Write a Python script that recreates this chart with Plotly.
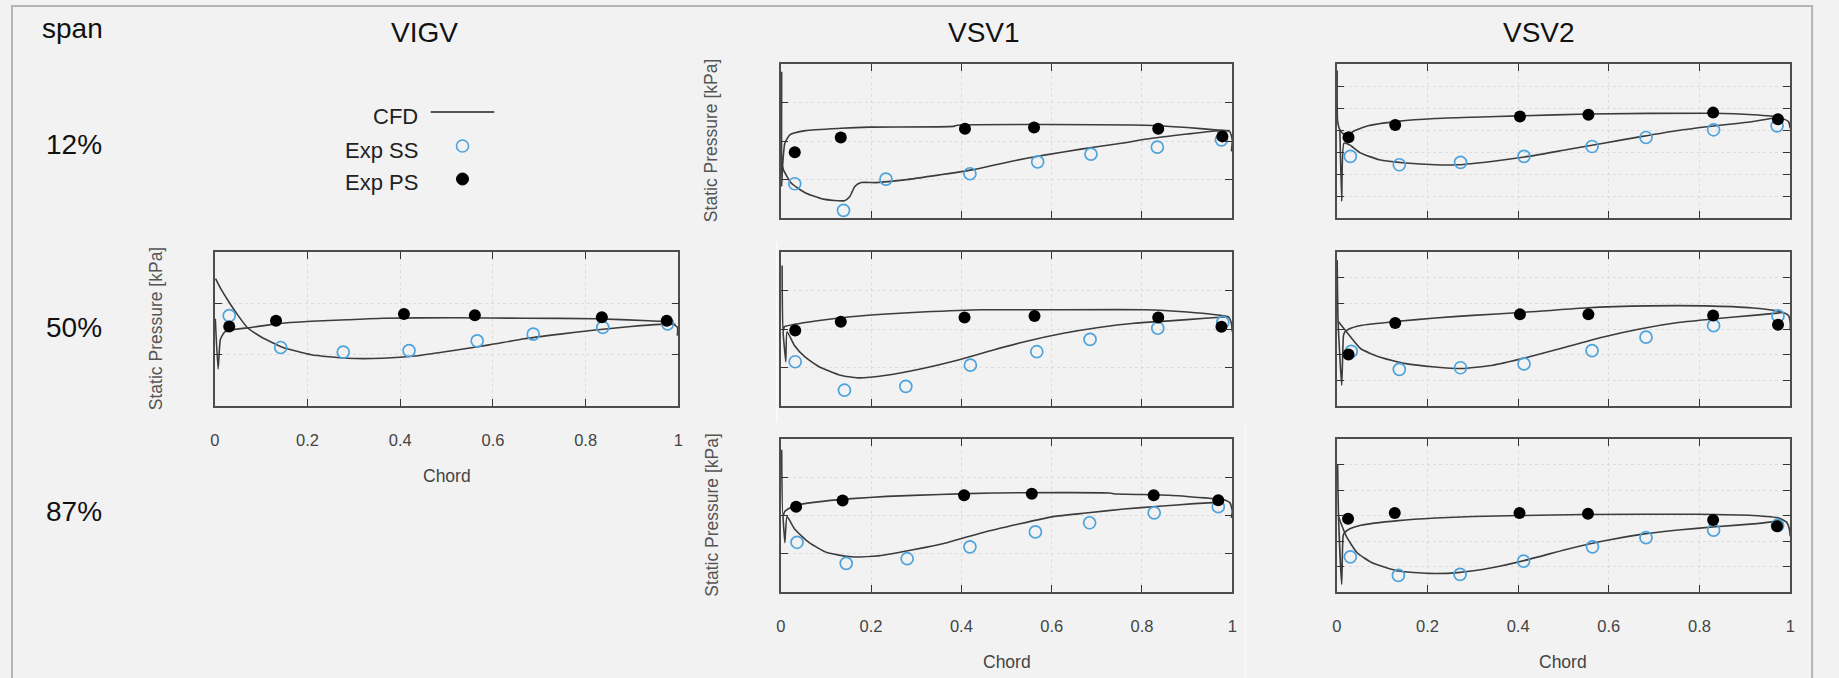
import plotly.graph_objects as go

W, H = 1839, 678
FONT = "Liberation Sans, Arial, sans-serif"

# ---------------- data: chord fraction vs static pressure (axis tick units) ----------------
# VIGV, 50% span
VIGV_50_PS_CHORD = [0.031, 0.132, 0.408, 0.561, 0.835, 0.975]
VIGV_50_PS_P = [1.55, 1.66, 1.79, 1.77, 1.73, 1.66]
VIGV_50_SS_CHORD = [0.031, 0.142, 0.277, 0.419, 0.566, 0.687, 0.837, 0.977]
VIGV_50_SS_P = [1.76, 1.14, 1.05, 1.08, 1.27, 1.40, 1.53, 1.60]
VIGV_50_CFD_A_CHORD = [0.001, 0.007, 0.012, 0.021, 0.040, 0.078, 0.132, 0.208, 0.285, 0.362,
                       0.515, 0.668, 0.821, 0.936, 0.982, 0.998, 0.998]
VIGV_50_CFD_A_P = [1.70, 0.72, 1.30, 1.44, 1.49, 1.53, 1.60, 1.65, 1.68, 1.71,
                   1.72, 1.71, 1.70, 1.66, 1.63, 1.53, 1.37]
VIGV_50_CFD_B_CHORD = [0.0015, 0.013, 0.028, 0.048, 0.070, 0.101, 0.147, 0.208, 0.285, 0.362,
                       0.438, 0.515, 0.592, 0.668, 0.745, 0.821, 0.898, 0.959, 0.994]
VIGV_50_CFD_B_P = [2.48, 2.28, 2.06, 1.79, 1.53, 1.34, 1.14, 1.00, 0.93, 0.93,
                   0.98, 1.08, 1.19, 1.31, 1.40, 1.48, 1.55, 1.59, 1.59]

# VSV1, 12% span
VSV1_12_PS_CHORD = [0.031, 0.133, 0.408, 0.561, 0.836, 0.978]
VSV1_12_PS_P = [1.71, 2.09, 2.32, 2.35, 2.32, 2.12]
VSV1_12_SS_CHORD = [0.031, 0.139, 0.233, 0.419, 0.569, 0.687, 0.834, 0.976]
VSV1_12_SS_P = [0.89, 0.20, 1.01, 1.15, 1.46, 1.66, 1.84, 2.03]
VSV1_12_CFD_A_CHORD = [0.002, 0.002, 0.004, 0.009, 0.020, 0.055, 0.133, 0.196, 0.383, 0.391,
                       0.806, 0.900, 0.962, 0.994, 1.0, 0.998]
VSV1_12_CFD_A_P = [3.80, 0.82, 1.34, 1.94, 2.16, 2.27, 2.33, 2.36, 2.38, 2.41,
                   2.41, 2.35, 2.29, 2.25, 2.03, 1.73]
VSV1_12_CFD_B_CHORD = [0.004, 0.006, 0.023, 0.055, 0.094, 0.141, 0.153, 0.164, 0.178, 0.211,
                       0.274, 0.352, 0.423, 0.509, 0.587, 0.665, 0.743, 0.822, 0.900, 0.962, 0.994]
VSV1_12_CFD_B_P = [1.34, 1.25, 0.91, 0.65, 0.49, 0.45, 0.56, 0.82, 0.92, 0.92,
                   0.99, 1.12, 1.25, 1.47, 1.64, 1.79, 1.92, 2.07, 2.18, 2.26, 2.27]

# VSV1, 50% span
VSV1_50_PS_CHORD = [0.032, 0.133, 0.407, 0.562, 0.836, 0.976]
VSV1_50_PS_P = [1.96, 2.19, 2.30, 2.34, 2.30, 2.06]
VSV1_50_SS_CHORD = [0.032, 0.141, 0.277, 0.420, 0.567, 0.685, 0.835, 0.979]
VSV1_50_SS_P = [1.15, 0.41, 0.51, 1.06, 1.41, 1.73, 2.02, 2.17]
VSV1_50_CFD_A_CHORD = [0.003, 0.005, 0.008, 0.030, 0.077, 0.155, 0.234, 0.312, 0.445, 0.587,
                       0.806, 0.900, 0.963, 0.991, 0.998, 1.0]
VSV1_50_CFD_A_P = [3.65, 1.93, 2.06, 2.12, 2.21, 2.32, 2.39, 2.44, 2.50, 2.50,
                   2.50, 2.44, 2.37, 2.32, 2.15, 1.93]
VSV1_50_CFD_B_CHORD = [0.005, 0.011, 0.014, 0.030, 0.053, 0.085, 0.132, 0.171, 0.234, 0.312,
                       0.391, 0.469, 0.547, 0.626, 0.704, 0.783, 0.861, 0.940, 0.991]
VSV1_50_CFD_B_P = [1.93, 1.15, 1.93, 1.58, 1.28, 1.02, 0.80, 0.73, 0.80, 0.97,
                   1.19, 1.45, 1.69, 1.89, 2.04, 2.15, 2.21, 2.28, 2.32]

# VSV1, 87% span
VSV1_87_PS_CHORD = [0.034, 0.137, 0.406, 0.556, 0.826, 0.969]
VSV1_87_PS_P = [2.23, 2.39, 2.53, 2.57, 2.53, 2.40]
VSV1_87_SS_CHORD = [0.036, 0.145, 0.280, 0.419, 0.564, 0.684, 0.827, 0.969]
VSV1_87_SS_P = [1.30, 0.75, 0.87, 1.18, 1.57, 1.81, 2.07, 2.23]
VSV1_87_CFD_A_CHORD = [0.002, 0.005, 0.009, 0.031, 0.078, 0.157, 0.235, 0.352, 0.470, 0.728,
                       0.736, 0.861, 0.940, 0.979, 0.995, 1.0, 0.998]
VSV1_87_CFD_A_P = [3.72, 1.98, 2.11, 2.26, 2.35, 2.44, 2.50, 2.55, 2.59, 2.59,
                   2.57, 2.53, 2.46, 2.42, 2.33, 2.11, 1.94]
VSV1_87_CFD_B_CHORD = [0.005, 0.009, 0.014, 0.031, 0.063, 0.102, 0.157, 0.211, 0.290, 0.368,
                       0.446, 0.525, 0.603, 0.681, 0.760, 0.838, 0.916, 0.979]
VSV1_87_CFD_B_P = [1.98, 1.29, 1.97, 1.64, 1.29, 1.03, 0.92, 0.94, 1.10, 1.29,
                   1.55, 1.77, 1.97, 2.07, 2.17, 2.24, 2.31, 2.35]

# VSV2, 12% span
VSV2_12_PS_CHORD = [0.026, 0.129, 0.404, 0.555, 0.830, 0.973]
VSV2_12_PS_P = [3.67, 4.23, 4.61, 4.69, 4.79, 4.49]
VSV2_12_SS_CHORD = [0.030, 0.138, 0.273, 0.413, 0.563, 0.682, 0.831, 0.971]
VSV2_12_SS_P = [2.80, 2.42, 2.53, 2.80, 3.25, 3.66, 4.01, 4.19]
VSV2_12_CFD_A_CHORD = [0.001, 0.002, 0.007, 0.022, 0.036, 0.069, 0.135, 0.217, 0.300, 0.404,
                       0.555, 0.827, 0.918, 0.975, 0.996, 1.0]
VSV2_12_CFD_A_P = [6.70, 4.39, 4.01, 3.70, 3.93, 4.19, 4.39, 4.52, 4.58, 4.64,
                   4.73, 4.76, 4.69, 4.58, 4.39, 4.08]
VSV2_12_CFD_B_CHORD = [0.007, 0.011, 0.016, 0.028, 0.053, 0.094, 0.152, 0.217, 0.267, 0.341,
                       0.423, 0.506, 0.588, 0.671, 0.753, 0.835, 0.918, 0.975]
VSV2_12_CFD_B_P = [4.01, 0.76, 3.40, 3.33, 2.95, 2.65, 2.50, 2.42, 2.42, 2.57,
                   2.80, 3.10, 3.40, 3.70, 3.98, 4.19, 4.39, 4.58]

# VSV2, 50% span
VSV2_50_PS_CHORD = [0.026, 0.129, 0.404, 0.555, 0.830, 0.973]
VSV2_50_PS_P = [2.01, 3.23, 3.57, 3.57, 3.53, 3.17]
VSV2_50_SS_CHORD = [0.032, 0.138, 0.273, 0.413, 0.563, 0.682, 0.831, 0.973]
VSV2_50_SS_P = [2.13, 1.43, 1.49, 1.64, 2.16, 2.68, 3.13, 3.51]
VSV2_50_CFD_A_CHORD = [0.001, 0.003, 0.011, 0.015, 0.018, 0.028, 0.053, 0.135, 0.217, 0.300,
                       0.404, 0.547, 0.687, 0.811, 0.918, 0.975, 0.996, 1.0, 1.0]
VSV2_50_CFD_A_P = [5.68, 3.30, 0.81, 2.75, 2.88, 3.01, 3.14, 3.30, 3.43, 3.53,
                   3.64, 3.82, 3.90, 3.90, 3.82, 3.69, 3.53, 3.25, 2.95]
VSV2_50_CFD_B_CHORD = [0.003, 0.028, 0.053, 0.094, 0.152, 0.217, 0.275, 0.341, 0.423, 0.506,
                       0.588, 0.671, 0.753, 0.835, 0.918, 0.984]
VSV2_50_CFD_B_P = [3.30, 2.75, 2.23, 1.91, 1.65, 1.52, 1.46, 1.58, 1.91, 2.30,
                   2.69, 3.01, 3.25, 3.40, 3.53, 3.64]

# VSV2, 87% span
VSV2_87_PS_CHORD = [0.025, 0.128, 0.403, 0.554, 0.830, 0.971]
VSV2_87_PS_P = [2.87, 3.10, 3.10, 3.07, 2.82, 2.58]
VSV2_87_SS_CHORD = [0.030, 0.136, 0.272, 0.412, 0.564, 0.682, 0.831, 0.972]
VSV2_87_SS_P = [1.38, 0.65, 0.69, 1.21, 1.77, 2.13, 2.43, 2.61]
VSV2_87_CFD_A_CHORD = [0.002, 0.004, 0.011, 0.014, 0.017, 0.029, 0.053, 0.136, 0.218, 0.300,
                       0.405, 0.547, 0.794, 0.918, 0.975, 0.992, 0.998, 1.0]
VSV2_87_CFD_A_P = [5.00, 2.95, 0.30, 2.19, 2.32, 2.48, 2.62, 2.80, 2.90, 2.96,
                   3.00, 3.04, 3.05, 3.00, 2.90, 2.74, 2.48, 2.19]
VSV2_87_CFD_B_CHORD = [0.004, 0.021, 0.045, 0.078, 0.136, 0.202, 0.267, 0.342, 0.424, 0.506,
                       0.588, 0.671, 0.753, 0.835, 0.918, 0.975]
VSV2_87_CFD_B_P = [2.95, 2.19, 1.54, 1.15, 0.82, 0.73, 0.76, 0.95, 1.28, 1.67,
                   2.00, 2.26, 2.43, 2.56, 2.67, 2.78]

X_TICKS = [0, 0.2, 0.4, 0.6, 0.8, 1]
X_TICK_TEXT = ["0", "0.2", "0.4", "0.6", "0.8", "1"]
COLUMN_TITLES = ["VIGV", "VSV1", "VSV2"]
ROW_LABELS = ["12%", "50%", "87%"]
LEGEND_LABELS = ["CFD", "Exp SS", "Exp PS"]

# ---------------- layout geometry (pixels) ----------------
def px_x(p):
    return p / W


def px_y(p):
    return 1 - p / H


COL_PX = {"VIGV": (211, 677), "VSV1": (780, 1234), "VSV2": (1339, 1795)}
ROW_PX = {"12%": (64, 218), "50%": (252, 406), "87%": (439, 592)}

# (column, row, data, y intervals, show x tick labels/title, show y title)
PANELS = [
    ("VIGV", "50%", (VIGV_50_PS_CHORD, VIGV_50_PS_P, VIGV_50_SS_CHORD, VIGV_50_SS_P,
                     VIGV_50_CFD_A_CHORD, VIGV_50_CFD_A_P, VIGV_50_CFD_B_CHORD, VIGV_50_CFD_B_P), 3, True, True),
    ("VSV1", "12%", (VSV1_12_PS_CHORD, VSV1_12_PS_P, VSV1_12_SS_CHORD, VSV1_12_SS_P,
                     VSV1_12_CFD_A_CHORD, VSV1_12_CFD_A_P, VSV1_12_CFD_B_CHORD, VSV1_12_CFD_B_P), 4, False, True),
    ("VSV1", "50%", (VSV1_50_PS_CHORD, VSV1_50_PS_P, VSV1_50_SS_CHORD, VSV1_50_SS_P,
                     VSV1_50_CFD_A_CHORD, VSV1_50_CFD_A_P, VSV1_50_CFD_B_CHORD, VSV1_50_CFD_B_P), 4, False, False),
    ("VSV1", "87%", (VSV1_87_PS_CHORD, VSV1_87_PS_P, VSV1_87_SS_CHORD, VSV1_87_SS_P,
                     VSV1_87_CFD_A_CHORD, VSV1_87_CFD_A_P, VSV1_87_CFD_B_CHORD, VSV1_87_CFD_B_P), 4, True, True),
    ("VSV2", "12%", (VSV2_12_PS_CHORD, VSV2_12_PS_P, VSV2_12_SS_CHORD, VSV2_12_SS_P,
                     VSV2_12_CFD_A_CHORD, VSV2_12_CFD_A_P, VSV2_12_CFD_B_CHORD, VSV2_12_CFD_B_P), 7, False, False),
    ("VSV2", "50%", (VSV2_50_PS_CHORD, VSV2_50_PS_P, VSV2_50_SS_CHORD, VSV2_50_SS_P,
                     VSV2_50_CFD_A_CHORD, VSV2_50_CFD_A_P, VSV2_50_CFD_B_CHORD, VSV2_50_CFD_B_P), 6, False, False),
    ("VSV2", "87%", (VSV2_87_PS_CHORD, VSV2_87_PS_P, VSV2_87_SS_CHORD, VSV2_87_SS_P,
                     VSV2_87_CFD_A_CHORD, VSV2_87_CFD_A_P, VSV2_87_CFD_B_CHORD, VSV2_87_CFD_B_P), 6, True, False),
]

BG = "#f2f2f2"
LINE_COLOR = "#3c3c3c"
SS_COLOR = "#4da3dc"
FRAME_COLOR = "#4d4d4d"
GRID_COLOR = "#dcdcdc"

fig = go.Figure()
layout = dict(
    width=W, height=H,
    margin=dict(l=0, r=0, t=0, b=0),
    paper_bgcolor=BG, plot_bgcolor=BG,
    showlegend=False,
    font=dict(family=FONT, color="#222"),
)
annotations = []
shapes = []

for i, (col, row, data, n_int, show_x, show_ytitle) in enumerate(PANELS, start=1):
    ps_c, ps_p, ss_c, ss_p, a_c, a_p, b_c, b_p = data
    xs = "" if i == 1 else str(i)
    xref, yref = "x" + xs, "y" + xs
    x0, x1 = COL_PX[col]
    y0, y1 = ROW_PX[row]

    for cx, cy in ((a_c, a_p), (b_c, b_p)):
        fig.add_trace(go.Scatter(x=cx, y=cy, mode="lines", name="CFD", legendgroup="cfd",
                                 showlegend=False, xaxis=xref, yaxis=yref,
                                 line=dict(color=LINE_COLOR, width=1.6, shape="spline", smoothing=0.5)))
    fig.add_trace(go.Scatter(x=ss_c, y=ss_p, mode="markers", name="Exp SS", xaxis=xref, yaxis=yref,
                             marker=dict(symbol="circle-open", size=12, color=SS_COLOR,
                                         line=dict(width=1.7, color=SS_COLOR))))
    fig.add_trace(go.Scatter(x=ps_c, y=ps_p, mode="markers", name="Exp PS", xaxis=xref, yaxis=yref,
                             marker=dict(symbol="circle", size=12, color="#000000")))

    layout["xaxis" + xs] = dict(
        domain=[px_x(x0), px_x(x1)], anchor=yref, range=[0, 1],
        tickvals=X_TICKS, ticktext=X_TICK_TEXT, ticks="inside", ticklen=7, tickwidth=1.2,
        tickcolor="#333", showline=True, linecolor=FRAME_COLOR, linewidth=1.6, mirror="ticks",
        showgrid=True, gridcolor=GRID_COLOR, griddash="dot", gridwidth=1, zeroline=False,
        showticklabels=show_x, ticklabelstandoff=18,
        tickfont=dict(family=FONT, size=16.5, color="#444"),
    )
    layout["yaxis" + xs] = dict(
        domain=[px_y(y1), px_y(y0)], anchor=xref, range=[0, n_int], dtick=1, tick0=0,
        ticks="inside", ticklen=7, tickwidth=1.2, tickcolor="#333",
        showline=True, linecolor=FRAME_COLOR, linewidth=1.6, mirror="ticks",
        showgrid=True, gridcolor=GRID_COLOR, griddash="dot", gridwidth=1, zeroline=False,
        showticklabels=False,
    )
    if show_x:
        annotations.append(dict(text="Chord", xref="paper", yref="paper",
                                x=px_x((x0 + x1) / 2), y=px_y(y1 + 70), showarrow=False,
                                xanchor="center", yanchor="middle",
                                font=dict(family=FONT, size=17.5, color="#444")))
    if show_ytitle:
        off = 59 if col == "VIGV" else 70
        annotations.append(dict(text="Static Pressure [kPa]", xref="paper", yref="paper",
                                x=px_x(x0 - off), y=px_y((y0 + y1) / 2), showarrow=False,
                                textangle=-90, xanchor="center", yanchor="middle",
                                font=dict(family=FONT, size=17.5, color="#555")))

# column titles, row labels
for t, cx in zip(COLUMN_TITLES, (422, 984, 1542)):
    annotations.append(dict(text=t, xref="paper", yref="paper", x=px_x(cx), y=px_y(32),
                            showarrow=False, xanchor="center", yanchor="middle",
                            font=dict(family=FONT, size=28, color="#111")))
annotations.append(dict(text="span", xref="paper", yref="paper", x=px_x(68), y=px_y(28),
                        showarrow=False, xanchor="center", yanchor="middle",
                        font=dict(family=FONT, size=28, color="#111")))
for t, cy in zip(ROW_LABELS, (145, 328, 511)):
    annotations.append(dict(text=t, xref="paper", yref="paper", x=px_x(69), y=px_y(cy),
                            showarrow=False, xanchor="center", yanchor="middle",
                            font=dict(family=FONT, size=28, color="#111")))

# legend block (text on the left, key on the right)
for t, cy in zip(LEGEND_LABELS, (117, 150, 182)):
    annotations.append(dict(text=t, xref="paper", yref="paper", x=px_x(417), y=px_y(cy),
                            showarrow=False, xanchor="right", yanchor="middle",
                            font=dict(family=FONT, size=22, color="#222")))
shapes.append(dict(type="line", xref="paper", yref="paper", x0=px_x(428), x1=px_x(492),
                   y0=px_y(112), y1=px_y(112), line=dict(color="#222", width=1.6)))
shapes.append(dict(type="circle", xref="paper", yref="paper", xsizemode="pixel", ysizemode="pixel",
                   xanchor=px_x(460), yanchor=px_y(146), x0=-6, x1=6, y0=-6, y1=6,
                   line=dict(color=SS_COLOR, width=1.6)))
shapes.append(dict(type="circle", xref="paper", yref="paper", xsizemode="pixel", ysizemode="pixel",
                   xanchor=px_x(460), yanchor=px_y(179), x0=-6, x1=6, y0=-6, y1=6,
                   fillcolor="#000", line=dict(color="#000", width=1)))

# outer frame of the figure panel and faint separators
shapes.append(dict(type="rect", xref="paper", yref="paper", x0=px_x(7), x1=px_x(1817),
                   y0=px_y(700), y1=px_y(6), line=dict(color="#b4b4b4", width=2),
                   fillcolor="rgba(0,0,0,0)", layer="below"))
shapes.append(dict(type="line", xref="paper", yref="paper", x0=px_x(776), x1=px_x(776),
                   y0=px_y(242), y1=px_y(422), line=dict(color="#ffffff", width=1), layer="below"))
shapes.append(dict(type="line", xref="paper", yref="paper", x0=px_x(1247), x1=px_x(1247),
                   y0=px_y(422), y1=px_y(690), line=dict(color="#ffffff", width=1), layer="below"))

layout["annotations"] = annotations
layout["shapes"] = shapes
fig.update_layout(**layout)
fig.write_html(
    "out.html",
    config={"displayModeBar": False},
    post_script="document.body.style.margin='0';document.body.style.padding='0';"
                "document.body.style.background='#f2f2f2';",
)
